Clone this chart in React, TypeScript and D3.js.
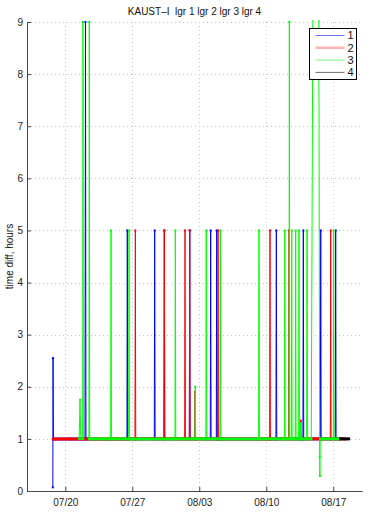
import React, { useEffect, useRef } from "react";
import * as d3 from "d3";

const WIDTH = 369;
const HEIGHT = 524;
const MARGIN = { TOP: 22, RIGHT: 7, BOTTOM: 33, LEFT: 27 };
const FONT = "'Liberation Sans', Arial, Helvetica, sans-serif";

// x is in days counted from July 1 (Aug 3 = 34)
const X_DOMAIN = [16, 51];
const X_TICKS = [20, 27, 34, 41, 48];
const X_TICK_LABELS = ["07/20", "07/27", "08/03", "08/10", "08/17"];
const Y_TICKS = [0, 1, 2, 3, 4, 5, 6, 7, 8, 9];

const TITLE = "KAUST\u2013I  lgr 1 lgr 2 lgr 3 lgr 4";
const Y_LABEL = "time diff, hours";

type Pt = [number, number] | null;

const lgr1: Pt[] = [
  [18.7, 0.07], [18.72, 2.55], [18.76, 1],
  [22.06, 1], [22.11, 9], [22.16, 1],
  [26.44, 1], [26.48, 5], [26.52, 1],
  [29.3, 1], [29.34, 5], [29.38, 1],
  [30.31, 1], [30.35, 5], [30.39, 1],
  [32.96, 1], [33.0, 5], [33.04, 1],
  [35.15, 1], [35.19, 5], [35.23, 1],
  [35.78, 1], [35.82, 5], [35.86, 1],
  [42.01, 1], [42.05, 5], [42.09, 1],
  [44.83, 1], [44.87, 5], [44.91, 1],
  [46.65, 1], [46.69, 5], [46.73, 1],
  [48.21, 1], [48.25, 5], [48.29, 1],
  [48.6, 1],
];

const lgr2: Pt[] = [
  [18.72, 1],
  [27.28, 1], [27.32, 5], [27.36, 1],
  [30.31, 1], [30.35, 5], [30.39, 1],
  [32.47, 1], [32.51, 5], [32.55, 1],
  [32.96, 1], [33.0, 5], [33.04, 1],
  [33.51, 1], [33.55, 1.9], [33.59, 1],
  [35.92, 1], [35.96, 5], [36.0, 1],
  [41.35, 1], [41.39, 5], [41.43, 1],
  [43.33, 1], [43.37, 5], [43.41, 1],
  [44.56, 1], [44.6, 1.35], [44.64, 1],
  [47.69, 1], [47.73, 5], [47.77, 1],
  [49.3, 1],
];

const lgr3: Pt[] = [
  [21.45, 1], [21.54, 1.75], [21.62, 1],
  null,
  [21.82, 1], [21.85, 9], [21.88, 1],
  null,
  [22.47, 1], [22.51, 9], [22.55, 1],
  [24.74, 1], [24.78, 5], [24.82, 1],
  [26.62, 1], [26.66, 5], [26.7, 1],
  [31.46, 1], [31.5, 5], [31.54, 1],
  [33.54, 1], [33.58, 2.0], [33.62, 1],
  [34.69, 1], [34.73, 5], [34.77, 1],
  [36.16, 1], [36.2, 5], [36.24, 1],
  [40.2, 1], [40.24, 5], [40.28, 1],
  [42.89, 1], [42.93, 5], [42.97, 1],
  [43.37, 1], [43.41, 9], [43.45, 1],
  [43.62, 1], [43.66, 5], [43.7, 1],
  [44.03, 1], [44.07, 5], [44.11, 1],
  [44.38, 1], [44.42, 5], [44.46, 1],
  [44.56, 1], [44.6, 1.3], [44.64, 1],
  [45.22, 1], [45.26, 5], [45.3, 1],
  [45.7, 1], [45.92, 12], [46.46, 12], [46.58, 0.66], [46.6, 0.29], [46.63, 1],
  [48.0, 1], [48.04, 5], [48.08, 1],
  [48.7, 1],
];

const lgr4: Pt[] = [[48.7, 1], [49.65, 1]];

const SERIES_NAMES = ["1", "2", "3", "4"];
const SERIES_DATA = [lgr1, lgr2, lgr3, lgr4];
const SERIES_COLORS = ["#0000ff", "#ff0000", "#00ff00", "#000000"];
const LEGEND_COLORS = ["#7373ff", "#ffb3b3", "#80f080", "#707070"];
const LEGEND_WIDTHS = [1, 2.5, 1, 1];

const App = () => {
  const ref = useRef<SVGSVGElement>(null);

  useEffect(() => {
    const svg = d3.select(ref.current);
    svg.selectAll("*").remove();

    const x = d3
      .scaleLinear()
      .domain(X_DOMAIN)
      .range([MARGIN.LEFT, WIDTH - MARGIN.RIGHT]);
    const y = d3
      .scaleLinear()
      .domain([0, 9])
      .range([HEIGHT - MARGIN.BOTTOM, MARGIN.TOP]);

    // dotted grid
    const grid = svg.append("g").attr("stroke", "#c4c4c4").attr("stroke-dasharray", "1,3");
    grid
      .selectAll("line.v")
      .data(X_TICKS)
      .enter()
      .append("line")
      .attr("x1", (d) => Math.round(x(d)) + 0.5)
      .attr("x2", (d) => Math.round(x(d)) + 0.5)
      .attr("y1", y(0))
      .attr("y2", y(9));
    grid
      .selectAll("line.h")
      .data(Y_TICKS.slice(1))
      .enter()
      .append("line")
      .attr("y1", (d) => Math.round(y(d)) + 0.5)
      .attr("y2", (d) => Math.round(y(d)) + 0.5)
      .attr("x1", x(X_DOMAIN[0]))
      .attr("x2", x(X_DOMAIN[1]));

    svg
      .append("clipPath")
      .attr("id", "plot-clip")
      .append("rect")
      .attr("x", x(X_DOMAIN[0]))
      .attr("y", y(9) - 2)
      .attr("width", x(X_DOMAIN[1]) - x(X_DOMAIN[0]))
      .attr("height", y(0) - y(9) + 2);

    const plot = svg.append("g").attr("clip-path", "url(#plot-clip)");
    const line = d3
      .line<Pt>()
      .defined((d) => d !== null)
      .x((d) => x((d as [number, number])[0]))
      .y((d) => y((d as [number, number])[1]));

    SERIES_DATA.forEach((data, i) => {
      const g = plot.append("g");
      g.append("path")
        .attr("d", line(data))
        .attr("fill", "none")
        .attr("stroke", SERIES_COLORS[i])
        .attr("stroke-width", 1);

      // densely sampled stretches at the baseline read as a thick band of dots
      const runs: [number, number][][] = [];
      for (let k = 1; k < data.length; k++) {
        const a = data[k - 1];
        const b = data[k];
        if (a && b && a[1] === 1 && b[1] === 1) runs.push([a, b]);
      }
      g.selectAll("line.run")
        .data(runs)
        .enter()
        .append("line")
        .attr("x1", (d) => x(d[0][0]) - 1)
        .attr("x2", (d) => x(d[1][0]) + 1)
        .attr("y1", (d) => y(d[0][1]))
        .attr("y2", (d) => y(d[1][1]))
        .attr("stroke", SERIES_COLORS[i])
        .attr("stroke-width", 3);

      g.selectAll("rect.dot")
        .data(data.filter((d) => d !== null) as [number, number][])
        .enter()
        .append("rect")
        .attr("x", (d) => x(d[0]) - 1)
        .attr("y", (d) => y(d[1]) - 1)
        .attr("width", 2)
        .attr("height", 2)
        .attr("fill", SERIES_COLORS[i]);
    });

    // axes, ticks pointing inward
    const xAxis = svg
      .append("g")
      .attr("transform", `translate(0,${y(0)})`)
      .call(
        d3
          .axisBottom(x)
          .tickValues(X_TICKS)
          .tickFormat((d, i) => X_TICK_LABELS[i])
          .tickSize(-4)
          .tickSizeOuter(0)
          .tickPadding(8)
      );
    const yAxis = svg
      .append("g")
      .attr("transform", `translate(${x(X_DOMAIN[0])},0)`)
      .call(d3.axisLeft(y).tickValues(Y_TICKS).tickSize(-4).tickSizeOuter(0).tickPadding(4));

    [xAxis, yAxis].forEach((ax) => {
      ax.attr("font-family", FONT).attr("font-size", 10);
      ax.select(".domain").attr("stroke", "#444");
      ax.selectAll(".tick line").attr("stroke", "#444");
      ax.selectAll(".tick text").attr("fill", "#222");
    });

    svg
      .append("text")
      .attr("x", (x(X_DOMAIN[0]) + x(X_DOMAIN[1])) / 2)
      .attr("y", 15)
      .attr("text-anchor", "middle")
      .attr("font-family", FONT)
      .attr("font-size", 10)
      .attr("fill", "#111")
      .attr("xml:space", "preserve")
      .text(TITLE);

    svg
      .append("text")
      .attr("transform", `translate(13,${(y(0) + y(9)) / 2}) rotate(-90)`)
      .attr("text-anchor", "middle")
      .attr("font-family", FONT)
      .attr("font-size", 10)
      .attr("fill", "#111")
      .text(Y_LABEL);

    // legend
    const legend = svg.append("g").attr("transform", "translate(309.5,28.5)");
    legend
      .append("rect")
      .attr("width", 47)
      .attr("height", 51)
      .attr("fill", "#fff")
      .attr("stroke", "#000");
    const items = legend
      .selectAll("g.item")
      .data(SERIES_NAMES)
      .enter()
      .append("g")
      .attr("transform", (d, i) => `translate(0,${7 + i * 12.3})`);
    items
      .append("line")
      .attr("x1", 6)
      .attr("x2", 35)
      .attr("stroke", (d, i) => LEGEND_COLORS[i])
      .attr("stroke-width", (d, i) => LEGEND_WIDTHS[i]);
    items
      .append("text")
      .attr("x", 38)
      .attr("dy", "0.35em")
      .attr("font-family", FONT)
      .attr("font-size", 11)
      .attr("fill", "#111")
      .text((d) => d);
  }, []);

  return (
    <svg
      ref={ref}
      width={WIDTH}
      height={HEIGHT}
      style={{ position: "absolute", left: 0, top: 0, background: "#fff" }}
    />
  );
};

export default App;
